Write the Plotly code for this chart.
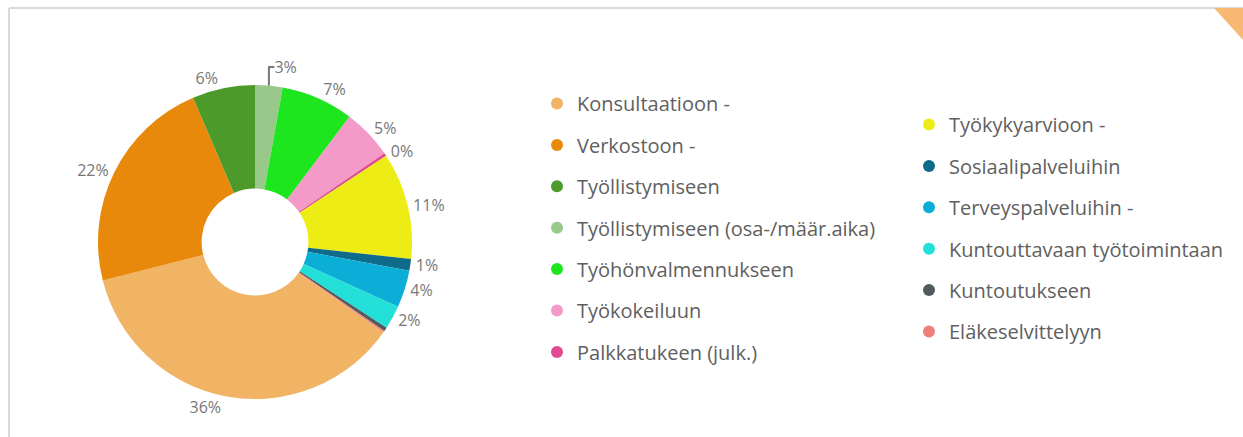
import plotly.graph_objects as go

labels = [
    "Konsultaatioon -", "Verkostoon -", "Työllistymiseen",
    "Työllistymiseen (osa-/määr.aika)", "Työhönvalmennukseen", "Työkokeiluun",
    "Palkkatukeen (julk.)", "Työkykyarvioon -", "Sosiaalipalveluihin",
    "Terveyspalveluihin -", "Kuntouttavaan työtoimintaan", "Kuntoutukseen",
    "Eläkeselvittelyyn",
]
values = [36.0, 22.3, 6.4, 2.8, 7.4, 5.1, 0.3, 10.9, 1.2, 3.8, 2.4, 0.4, 0.15]
colors = [
    "#F0B464", "#E8890C", "#4C9A2A", "#98C98A", "#1EE61E", "#F39AC8",
    "#E24A8F", "#EDEC15", "#0F6B8A", "#0BAED6", "#22E0D8", "#4F5B5D", "#EE7F7A",
]
hidden_label = ["Kuntoutukseen", "Eläkeselvittelyyn"]

W, H = 1243, 437
total = sum(values)
# first three slices end at 12 o'clock
rotation = 360 * (1 - sum(values[:3]) / total)

texttemplates = ["" if l in hidden_label else "%{percent:.0%}" for l in labels]

fig = go.Figure()
fig.add_trace(go.Pie(
    labels=labels, values=values, sort=False, direction="clockwise",
    rotation=rotation, hole=0.34,
    marker=dict(colors=colors, line=dict(width=0)),
    textposition="outside", texttemplate=texttemplates,
    textfont=dict(family="Open Sans", size=16, color="#777777"),
    showlegend=False,
    domain=dict(x=[(255 - 157) / W, (255 + 157) / W],
                y=[(H - 242 - 157) / H, (H - 242 + 157) / H]),
))

for i, (lab, col) in enumerate(zip(labels, colors)):
    fig.add_trace(go.Scatter(
        x=[None], y=[None], mode="markers", name=lab,
        marker=dict(color=col, size=12, symbol="circle"),
        legendgroup=lab, showlegend=True,
        legend="legend" if i < 7 else "legend2",
    ))

legend_common = dict(
    font=dict(family="Open Sans", size=20, color="#606060"),
    bgcolor="rgba(0,0,0,0)", tracegroupgap=12.4, itemsizing="trace",
    xanchor="left", yanchor="top", traceorder="grouped",
)
fig.update_layout(
    width=W, height=H,
    margin=dict(l=0, r=0, t=0, b=0),
    paper_bgcolor="white", plot_bgcolor="white",
    xaxis=dict(visible=False), yaxis=dict(visible=False),
    legend=dict(x=537 / W, y=1 - 84 / H, **legend_common),
    legend2=dict(x=909 / W, y=1 - 105 / H, **legend_common),
    shapes=[
        dict(type="line", xref="paper", yref="paper", x0=9 / W, x1=1, y0=1 - 8 / H, y1=1 - 8 / H,
             line=dict(color="#DADADA", width=2)),
        dict(type="line", xref="paper", yref="paper", x0=9 / W, x1=9 / W, y0=0, y1=1 - 8 / H,
             line=dict(color="#DADADA", width=2)),
        dict(type="path", xref="paper", yref="paper",
             path=f"M {1214 / W} {1 - 8 / H} L 1 {1 - 8 / H} L 1 {1 - 40 / H} Z",
             fillcolor="#F6B872", line=dict(width=0)),
    ],
)

fig.write_html(
    "out.html",
    config={"displayModeBar": False},
    post_script="document.body.style.margin='0';document.body.style.overflow='hidden';",
)
